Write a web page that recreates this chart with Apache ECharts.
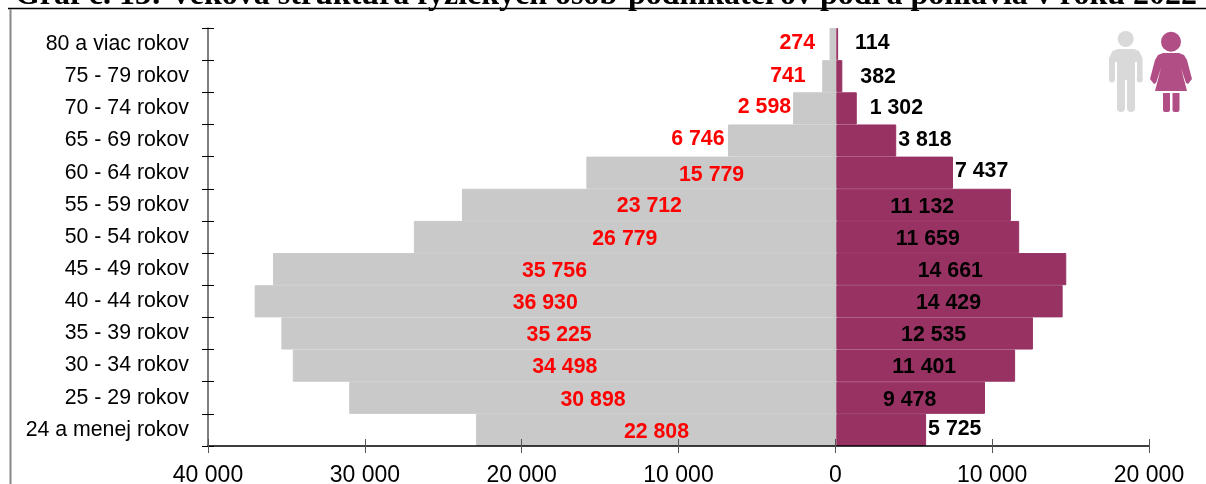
<!DOCTYPE html>
<html><head><meta charset="utf-8">
<style>html,body{margin:0;padding:0;background:#fff;overflow:hidden}#c{width:1206px;height:484px}</style>
<script src="https://cdn.jsdelivr.net/npm/echarts@6/dist/echarts.min.js"></script>
</head><body><div id="c"></div>
<script>
const titleText = 'Graf č. 13: Veková štruktúra fyzických osôb-podnikateľov podľa pohlavia v roku 2022';
const categories = ['24 a menej rokov','25 - 29 rokov','30 - 34 rokov','35 - 39 rokov','40 - 44 rokov','45 - 49 rokov','50 - 54 rokov','55 - 59 rokov','60 - 64 rokov','65 - 69 rokov','70 - 74 rokov','75 - 79 rokov','80 a viac rokov'];
const men   = [22808,30898,34498,35225,36930,35756,26779,23712,15779,6746,2598,741,274];
const women = [5725,9478,11401,12535,14429,14661,11659,11132,7437,3818,1302,382,114];
const xTicks = {min:-40000,max:20000,interval:10000};

// label placement, kept apart from the values: [dx, dy]
const menShift   = [[1.5,2],[1.5,2],[1.5,2],[1.5,2],[1,2],[1,2],[1,2],[1.5,1],[1.5,2],[-1.5,-1],[0,-1],[-14.5,0],[-12.5,-1]];
const womenShift = [[0,-1],[-1,2],[-1.5,2],[-1,2],[-1,2],[-1,2],[0,2],[-1.5,2],[0,-2],[0,0],[11,0],[16,1],[15,-1]];
const menOutside = i => i>=9, womenOutside = i => i===0 || i>=8;

const fmt = v => String(Math.abs(v)).replace(/\B(?=(\d{3})+$)/g,' ');
const F='"Liberation Sans",Arial,sans-serif';
const lab = (color,pos,shift)=>({show:true,position:pos,distance:2,offset:shift,color,fontFamily:F,fontWeight:'bold',fontSize:21.3,formatter:p=>fmt(p.value)});

const chart=echarts.init(document.getElementById('c'),null,{renderer:'canvas'});
const tickStyle={color:'#555',width:1};
const grey='#d9d9d9', pink='#b14e86', barGrey='#c9c9c9', barRed='#973263';
const Y={top:28,height:418,outerBoundsMode:'none'};
const hiddenX=g=>({gridIndex:g,type:'value',...xTicks,show:false,splitLine:{show:false}});
const hiddenY=g=>({gridIndex:g,type:'category',data:categories,show:false});
chart.setOption({
  animation:false,backgroundColor:'#fff',
  grid:[{left:208,width:941,...Y},{left:209,width:941,...Y},{left:206.5,width:941,...Y}],
  xAxis:[
    {gridIndex:0,type:'value',...xTicks,position:'bottom',splitLine:{show:false},z:10,
     axisLine:{show:true,onZero:false,lineStyle:{color:'#000',width:1.5}},
     axisTick:{show:true,length:7,lineStyle:tickStyle},
     axisLabel:{color:'#000',fontFamily:F,fontSize:23,margin:18,formatter:fmt,hideOverlap:false}},
    {gridIndex:0,type:'value',...xTicks,position:'bottom',splitLine:{show:false},z:10,
     axisLine:{show:false,onZero:false},axisTick:{show:true,inside:true,length:7,lineStyle:tickStyle},axisLabel:{show:false}},
    hiddenX(1),hiddenX(2)
  ],
  yAxis:[
    {gridIndex:0,type:'category',data:categories,position:'left',
     axisLine:{show:true,onZero:false,lineStyle:{color:'#555',width:1.5}},
     axisTick:{show:true,length:6,lineStyle:{color:'#000',width:1}},
     axisLabel:{color:'#000',fontFamily:F,fontSize:21.3,margin:19,padding:[3,0,0,0]}},
    {gridIndex:0,type:'category',data:categories,position:'left',
     axisLine:{show:false,onZero:false},axisTick:{show:true,inside:true,length:6,lineStyle:{color:'#000',width:1}},axisLabel:{show:false}},
    hiddenY(1),hiddenY(2)
  ],
  series:[
    {name:'Muži',type:'bar',xAxisIndex:3,yAxisIndex:3,barWidth:'100%',itemStyle:{color:barGrey,borderColor:barGrey,borderWidth:1},
     data:men.map((v,i)=>({value:-v,label:lab('#ff0000',menOutside(i)?'left':'inside',menShift[i])}))},
    {name:'Ženy',type:'bar',xAxisIndex:2,yAxisIndex:2,barWidth:'100%',itemStyle:{color:barRed,borderColor:barRed,borderWidth:1},
     data:women.map((v,i)=>({value:v,label:lab('#000',womenOutside(i)?'right':'inside',womenShift[i])}))}
  ],
  graphic:[
    {type:'rect',z:1,shape:{x:833,y:28,width:3.5,height:418},style:{fill:barGrey}},
    {type:'text',z:20,style:{text:titleText,x:606,y:-4,align:'center',verticalAlign:'middle',font:'bold 32px "Liberation Serif",serif',fill:'#000'}},
    {type:'line',z:20,shape:{x1:8,y1:8.5,x2:1206,y2:8.5},style:{stroke:'#000',lineWidth:1.5}},
    {type:'line',z:20,shape:{x1:10.5,y1:9,x2:10.5,y2:484},style:{stroke:'#888',lineWidth:2}},
    // man
    {type:'circle',z:20,shape:{cx:1125.7,cy:39,r:8},style:{fill:grey}},
    {type:'polygon',z:20,shape:{points:[[1118,49],[1134,49],[1139,51],[1142.5,58],[1142.5,80],[1137,80],[1137,62],[1135,62],[1135,80],[1117,80],[1117,62],[1115,62],[1115,80],[1109,80],[1109,58],[1112.5,51]]},style:{fill:grey}},
    {type:'circle',z:20,shape:{cx:1112,cy:79.5,r:2.9},style:{fill:grey}},
    {type:'circle',z:20,shape:{cx:1139.7,cy:79.5,r:2.9},style:{fill:grey}},
    {type:'rect',z:20,shape:{x:1117,y:75,width:8,height:37,r:[0,0,4,4]},style:{fill:grey}},
    {type:'rect',z:20,shape:{x:1127,y:75,width:8,height:37,r:[0,0,4,4]},style:{fill:grey}},
    // woman
    {type:'circle',z:20,shape:{cx:1171,cy:41.7,r:10},style:{fill:pink}},
    {type:'polygon',z:20,shape:{points:[[1163,53],[1179,53],[1184,55],[1187,60],[1192,79],[1188,84],[1186,83],[1181,68],[1187,91],[1155,91],[1161,68],[1156,83],[1154,84],[1150,79],[1155,60],[1158,55]]},style:{fill:pink}},
    {type:'rect',z:20,shape:{x:1163,y:93,width:7,height:19,r:[0,0,2,2]},style:{fill:pink}},
    {type:'rect',z:20,shape:{x:1172.5,y:93,width:7,height:19,r:[0,0,2,2]},style:{fill:pink}}
  ]
});
</script></body></html>
